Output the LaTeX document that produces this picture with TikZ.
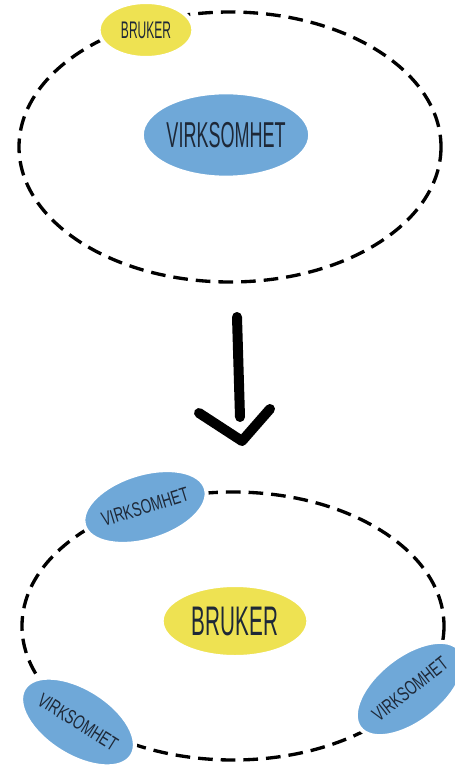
\documentclass[tikz,border=0pt]{standalone}
\usepackage{fontspec}
\newfontfamily\handfont[FakeStretch=0.5]{Liberation Sans}
\newfontfamily\handwide[FakeStretch=0.68]{Liberation Sans}
\usetikzlibrary{shapes.geometric}
\definecolor{userfill}{RGB}{238,226,82}
\definecolor{firmfill}{RGB}{111,168,216}
\definecolor{inkblue}{RGB}{30,40,55}
\tikzset{
  orbit/.style={dash pattern=on 11pt off 6pt, line width=2.5pt},
  blob/.style={ellipse, draw=white, line width=3pt, text=inkblue, inner sep=0pt},
  user/.style={blob, fill=userfill},
  firm/.style={blob, fill=firmfill},
  stroke/.style={line width=7.5pt, line cap=round, line join=round},
}

\begin{document}
\begin{tikzpicture}[x=0.75pt,y=0.75pt,yscale=-1,xscale=1]
\useasboundingbox (0,0) rectangle (454,766);
% before: the user sits outside
\draw [orbit] (230,147) ellipse [x radius=211, y radius=135];
\node [user, minimum width=71pt, minimum height=42pt] (topuser) at (146,30)
  {\handfont\fontsize{18}{18}\selectfont BRUKER};
\node [firm, minimum width=121pt, minimum height=64pt] (topfirm) at (226,135)
  {\handfont\fontsize{27}{27}\selectfont VIRKSOMHET};
% the arrow
\draw [stroke] (237,317) -- (240,417);
\draw [stroke] (199,413) -- (242,441) -- (270,409);
% after: the user in the middle
\draw [orbit] (233,626) ellipse [x radius=211, y radius=134];
\node [user, minimum width=110pt, minimum height=54pt] (botuser) at (235,621)
  {\handfont\fontsize{31}{31}\selectfont BRUKER};
\node [firm, minimum width=76pt, minimum height=50pt, rotate=17] (firmtop) at (145,507)
  {\handwide\fontsize{15}{15}\selectfont VIRKSOMHET};
\node [firm, minimum width=76pt, minimum height=51pt, rotate=-32] (firmleft) at (78,722)
  {\handwide\fontsize{15}{15}\selectfont VIRKSOMHET};
\node [firm, minimum width=78pt, minimum height=50pt, rotate=38] (firmright) at (410,689)
  {\handwide\fontsize{15}{15}\selectfont VIRKSOMHET};
\end{tikzpicture}
\end{document}
